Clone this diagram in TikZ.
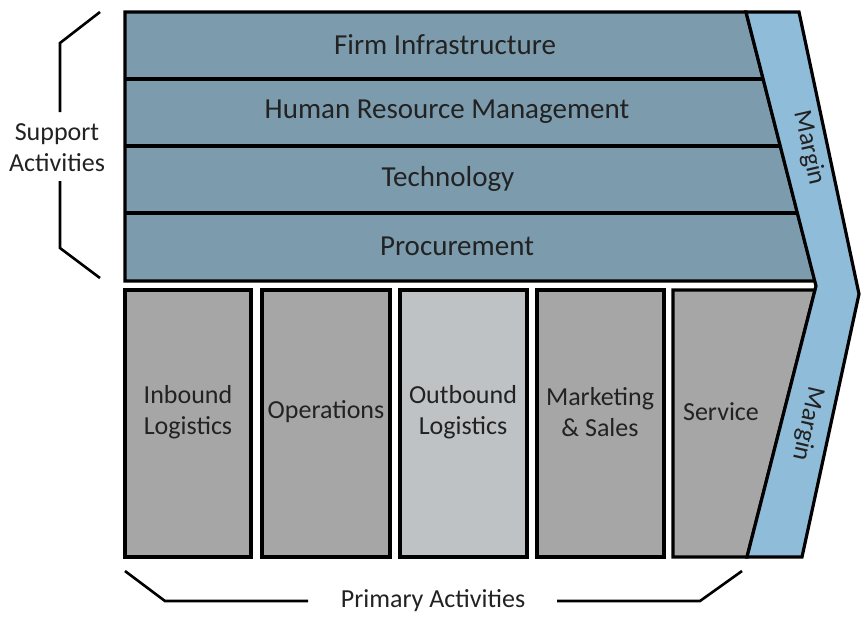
\documentclass[tikz,border=0pt]{standalone}
\usepackage{fontspec}
\setmainfont{Carlito}
\usepackage{tikz}

\definecolor{supportfill}{RGB}{124,156,174}
\definecolor{marginfill}{RGB}{143,188,217}
\definecolor{primaryfill}{RGB}{166,166,166}
\definecolor{outboundfill}{RGB}{191,194,197}
\definecolor{labeltext}{RGB}{34,34,34}

\tikzset{
    blockline/.style={draw=black, line width=3.2pt, line join=miter},
    bracketline/.style={draw=black, line width=2.6pt},
    rowlabel/.style={text=labeltext, font=\fontsize{29}{34}\selectfont},
    boxlabel/.style={text=labeltext, align=center, font=\fontsize{26}{31}\selectfont},
}

\begin{document}
\begin{tikzpicture}[x=1pt, y=-1pt]
    \useasboundingbox (0,0) rectangle (862,616);

    % Support activities (rows with slanted right edge)
    \fill[supportfill] (125,12) -- (746,12) -- (815,281) -- (125,281) -- cycle;
    \foreach \y in {79,146,213}
        \draw[blockline] (125,\y) -- ({746+(\y-12)*69/269},\y);
    \draw[blockline] (125,12) -- (746,12) -- (815,281) -- (125,281) -- cycle;

    % Primary activities
    \draw[blockline, fill=primaryfill] (125,290) rectangle (251,557);
    \draw[blockline, fill=primaryfill] (262,290) rectangle (390,557);
    \draw[blockline, fill=outboundfill] (400,290) rectangle (527,557);
    \draw[blockline, fill=primaryfill] (537,290) rectangle (664,557);
    \draw[blockline, fill=primaryfill] (673,290) -- (815,290) -- (747,557) -- (673,557) -- cycle;

    % Margin chevron
    \draw[blockline, fill=marginfill] (746,12) -- (799,12) -- (859,294) -- (802,557)
        -- (747,557) -- (816,286) -- cycle;

    % Labels
    \node[rowlabel] (firm) at (445,45) {Firm Infrastructure};
    \node[rowlabel] (hrm) at (447,112) {Human Resource Management};
    \node[rowlabel] (tech) at (448,179) {Technology};
    \node[rowlabel] (proc) at (457,246) {Procurement};

    \node[boxlabel] (inbound) at (188,412) {Inbound\\Logistics};
    \node[boxlabel] (ops) at (326,412) {Operations};
    \node[boxlabel] (outbound) at (463,412) {Outbound\\Logistics};
    \node[boxlabel] (mkt) at (600,412) {Marketing\\\& Sales};
    \node[boxlabel] (service) at (721,412) {Service};

    \node[boxlabel, rotate=-77] (margintop) at (809,148) {Margin};
    \node[boxlabel, rotate=-103] (marginbot) at (808,424) {Margin};

    % Brackets
    \node[boxlabel] (support) at (57,148) {Support\\Activities};
    \draw[bracketline] (100,12) -- (60,43) -- (60,112);
    \draw[bracketline] (60,181) -- (60,248) -- (100,278);

    \node[boxlabel] (primary) at (433,601) {Primary Activities};
    \draw[bracketline] (125,571) -- (165,601) -- (308,601);
    \draw[bracketline] (557,601) -- (700,601) -- (742,571);
\end{tikzpicture}
\end{document}
